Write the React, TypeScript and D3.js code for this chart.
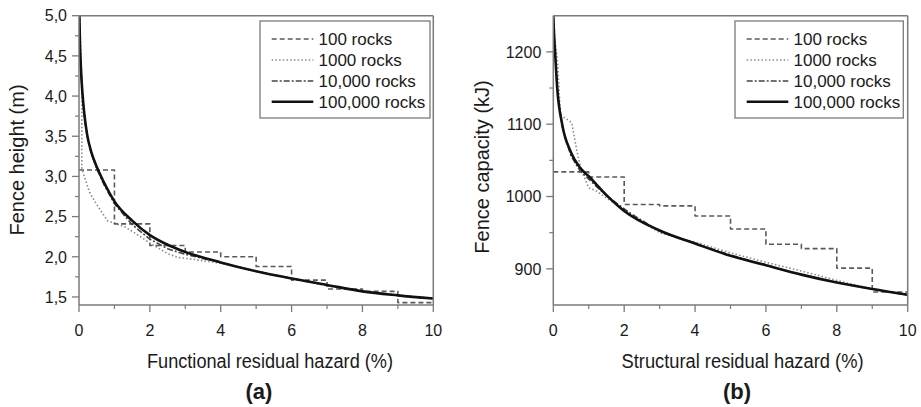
import React from "react";
import * as d3 from "d3";

// ---------- Data ----------
const xTicks = [0, 2, 4, 6, 8, 10];
const xMinorTicks = [1, 3, 5, 7, 9];

const yTicksA = [1.5, 2.0, 2.5, 3.0, 3.5, 4.0, 4.5, 5.0];
const yMinorA = [1.75, 2.25, 2.75, 3.25, 3.75, 4.25, 4.75];
const yTicksB = [900, 1000, 1100, 1200];
const yMinorB = [950, 1050, 1150];

const seriesNames = ["100 rocks", "1000 rocks", "10,000 rocks", "100,000 rocks"];

// Panel (a): fence height (m) vs functional residual hazard (%)
const hazA100 = [0, 1, 2, 3, 4, 5, 6, 7, 8, 9, 10];
const heightA100 = [3.08, 2.41, 2.14, 2.06, 2.0, 1.88, 1.71, 1.6, 1.57, 1.43, 1.43];

const hazA1000 = [0.02, 0.05, 0.08, 0.08, 0.15, 0.3, 0.5, 0.8, 1.0, 1.3, 1.6, 2.0, 2.5, 2.8, 3.2, 4, 5, 6, 7, 8, 9, 10];
const heightA1000 = [5.0, 4.5, 4.0, 3.1, 3.0, 2.8, 2.65, 2.45, 2.42, 2.37, 2.29, 2.17, 2.04, 1.99, 1.97, 1.92, 1.82, 1.73, 1.64, 1.57, 1.52, 1.48];

const hazA10k = [0.01, 0.03, 0.06, 0.1, 0.15, 0.23, 0.35, 0.5, 0.7, 1, 1.5, 2, 2.5, 3, 4, 5, 6, 7, 8, 9, 10];
const heightA10k = [5.0, 4.6, 4.28, 4.0, 3.76, 3.5, 3.28, 3.1, 2.9, 2.66, 2.4, 2.22, 2.1, 2.03, 1.93, 1.82, 1.73, 1.65, 1.57, 1.52, 1.48];

const hazA100k = [0.01, 0.03, 0.06, 0.1, 0.15, 0.23, 0.35, 0.5, 0.7, 1, 1.5, 2, 2.5, 3, 4, 5, 6, 7, 8, 9, 10];
const heightA100k = [5.0, 4.62, 4.3, 4.02, 3.78, 3.52, 3.3, 3.12, 2.93, 2.69, 2.45, 2.27, 2.15, 2.06, 1.93, 1.82, 1.73, 1.65, 1.57, 1.52, 1.48];

// Panel (b): fence capacity (kJ) vs structural residual hazard (%)
const hazB100 = [0, 1, 2, 3, 4, 5, 6, 7, 8, 9, 10];
const capB100 = [1034, 1027, 989, 987, 973, 955, 934, 928, 901, 868, 868];

const hazB1000 = [0, 0.05, 0.12, 0.16, 0.2, 0.35, 0.52, 0.6, 0.7, 0.8, 1.0, 1.2, 1.5, 2, 2.2, 3, 4, 5, 6, 7, 8, 9, 10];
const capB1000 = [1250, 1215, 1185, 1150, 1112, 1108, 1102, 1080, 1055, 1035, 1012, 1008, 998, 982, 974, 950, 937, 922, 909, 897, 884, 872, 864];

const hazB10k = [0, 0.05, 0.12, 0.25, 0.5, 0.75, 1, 1.5, 2, 2.2, 3, 4, 5, 6, 7, 8, 9, 10];
const capB10k = [1250, 1198, 1148, 1097, 1056, 1036, 1024, 1001, 983, 976, 952, 935, 919, 905, 892, 881, 872, 864];

const hazB100k = [0, 0.02, 0.05, 0.11, 0.25, 0.5, 0.75, 1, 1.5, 2, 3, 4, 5, 6, 7, 8, 9, 10];
const capB100k = [1250, 1225, 1200, 1150, 1100, 1061, 1040, 1028, 1002, 980, 953, 935, 918, 905, 892, 881, 872, 864];

// ---------- Styles ----------
const FONT = "'Liberation Sans', Arial, Helvetica, sans-serif";
const AXIS_COLOR = "#7a7a7a";
const TEXT_COLOR = "#1a1a1a";
const seriesStyles = [
  { stroke: "#5a5a5a", width: 1.6, dash: "5,3", curve: "step" },
  { stroke: "#8a8a8a", width: 1.6, dash: "1.5,2.2", curve: "linear" },
  { stroke: "#444", width: 1.6, dash: "6,2,2,2", curve: "linear" },
  { stroke: "#111", width: 2.6, dash: "", curve: "monotone" },
];

type Panel = {
  id: string;
  x0: number;
  x1: number;
  yTop: number;
  yBot: number;
  yDomain: [number, number];
  yTicks: number[];
  yMinor: number[];
  fmt: (v: number) => string;
  series: { x: number[]; y: number[] }[];
  xTitle: string;
  xTitleX: number;
  xTitleLen: number;
  yTitle: string;
  yTitleX: number;
  yTitleY: number;
  label: string;
  labelX: number;
  legendX0: number;
  legendX1: number;
};

const panels: Panel[] = [
  {
    id: "a",
    x0: 79,
    x1: 433.3,
    yTop: 15.7,
    yBot: 305,
    yDomain: [1.4, 5.0],
    yTicks: yTicksA,
    yMinor: yMinorA,
    fmt: (v) => v.toFixed(1).replace(".", ","),
    series: [
      { x: hazA100, y: heightA100 },
      { x: hazA1000, y: heightA1000 },
      { x: hazA10k, y: heightA10k },
      { x: hazA100k, y: heightA100k },
    ],
    xTitle: "Functional residual hazard (%)",
    xTitleX: 270,
    xTitleLen: 246,
    yTitle: "Fence height (m)",
    yTitleX: 17,
    yTitleY: 160,
    label: "(a)",
    labelX: 259,
    legendX0: 260,
    legendX1: 430,
  },
  {
    id: "b",
    x0: 553.3,
    x1: 907.7,
    yTop: 15.7,
    yBot: 305,
    yDomain: [850, 1250],
    yTicks: yTicksB,
    yMinor: yMinorB,
    fmt: (v) => String(v),
    series: [
      { x: hazB100, y: capB100 },
      { x: hazB1000, y: capB1000 },
      { x: hazB10k, y: capB10k },
      { x: hazB100k, y: capB100k },
    ],
    xTitle: "Structural residual hazard (%)",
    xTitleX: 742.5,
    xTitleLen: 242,
    yTitle: "Fence capacity (kJ)",
    yTitleX: 482,
    yTitleY: 167,
    label: "(b)",
    labelX: 737,
    legendX0: 735,
    legendX1: 903.3,
  },
];

function PanelView({ p }: { p: Panel }) {
  const x = d3.scaleLinear().domain([0, 10]).range([p.x0, p.x1]);
  const y = d3.scaleLinear().domain(p.yDomain).range([p.yBot, p.yTop]);
  const clipId = `clip-${p.id}`;

  const lines = p.series.map((s, i) => {
    const st = seriesStyles[i];
    const curve =
      st.curve === "step" ? d3.curveStepAfter : st.curve === "monotone" ? d3.curveMonotoneX : d3.curveLinear;
    const gen = d3
      .line<number>()
      .x((_, k) => x(s.x[k]))
      .y((v) => y(v))
      .curve(curve);
    return (
      <path
        key={i}
        d={gen(s.y) || ""}
        fill="none"
        stroke={st.stroke}
        strokeWidth={st.width}
        strokeDasharray={st.dash || undefined}
        strokeLinejoin="round"
      />
    );
  });

  const legendRows = [39, 60, 81, 101.7];
  const lx0 = p.legendX0 + 11.7;
  const lx1 = lx0 + 41.6;

  return (
    <g>
      <defs>
        <clipPath id={clipId}>
          <rect x={p.x0} y={p.yTop - 2} width={p.x1 - p.x0 + 2} height={p.yBot - p.yTop + 2} />
        </clipPath>
      </defs>
      <g clipPath={`url(#${clipId})`}>{[1, 0, 2, 3].map((i) => lines[i])}</g>

      {/* frame */}
      <line x1={p.x0} x2={p.x1} y1={p.yTop} y2={p.yTop} stroke={AXIS_COLOR} strokeWidth={1.5} />
      <line x1={p.x1} x2={p.x1} y1={p.yTop} y2={p.yBot} stroke={AXIS_COLOR} strokeWidth={1.5} />
      <line x1={p.x0} x2={p.x1} y1={p.yBot} y2={p.yBot} stroke={AXIS_COLOR} strokeWidth={1.5} />
      <line x1={p.x0} x2={p.x0} y1={p.yTop} y2={p.yBot} stroke={AXIS_COLOR} strokeWidth={1.5} />

      {/* x ticks */}
      {xTicks.map((t) => (
        <g key={`xt${t}`}>
          <line x1={x(t)} x2={x(t)} y1={p.yBot} y2={p.yBot + 7} stroke={AXIS_COLOR} strokeWidth={1.3} />
          <text x={x(t)} y={335.5} textAnchor="middle" fontSize={16} fontFamily={FONT} fill={TEXT_COLOR}>
            {t}
          </text>
        </g>
      ))}
      {xMinorTicks.map((t) => (
        <line key={`xm${t}`} x1={x(t)} x2={x(t)} y1={p.yBot} y2={p.yBot + 4} stroke={AXIS_COLOR} strokeWidth={1.2} />
      ))}

      {/* y ticks */}
      {p.yTicks.map((t) => (
        <g key={`yt${t}`}>
          <line x1={p.x0 - 7} x2={p.x0} y1={y(t)} y2={y(t)} stroke={AXIS_COLOR} strokeWidth={1.3} />
          <text
            x={p.x0 - 12}
            y={y(t)}
            dy="0.36em"
            textAnchor="end"
            fontSize={16}
            fontFamily={FONT}
            fill={TEXT_COLOR}
          >
            {p.fmt(t)}
          </text>
        </g>
      ))}
      {p.yMinor.map((t) => (
        <line key={`ym${t}`} x1={p.x0 - 4} x2={p.x0} y1={y(t)} y2={y(t)} stroke={AXIS_COLOR} strokeWidth={1.2} />
      ))}

      {/* titles */}
      <text
        x={p.xTitleX}
        y={368}
        textAnchor="middle"
        fontSize={20}
        fontFamily={FONT}
        fill={TEXT_COLOR}
        textLength={p.xTitleLen}
        lengthAdjust="spacingAndGlyphs"
      >
        {p.xTitle}
      </text>
      <text
        transform={`translate(${p.yTitleX},${p.yTitleY}) rotate(-90)`}
        textAnchor="middle"
        dy="0.35em"
        fontSize={20}
        fontFamily={FONT}
        fill={TEXT_COLOR}
      >
        {p.yTitle}
      </text>
      <text
        x={p.labelX}
        y={399}
        textAnchor="middle"
        fontSize={22}
        fontWeight="bold"
        fontFamily={FONT}
        fill={TEXT_COLOR}
      >
        {p.label}
      </text>

      {/* legend */}
      <rect
        x={p.legendX0}
        y={21}
        width={p.legendX1 - p.legendX0}
        height={97}
        fill="#fff"
        stroke={AXIS_COLOR}
        strokeWidth={1.3}
      />
      {seriesNames.map((name, i) => {
        const st = seriesStyles[i];
        return (
          <g key={name}>
            <line
              x1={lx0}
              x2={lx1}
              y1={legendRows[i]}
              y2={legendRows[i]}
              stroke={st.stroke}
              strokeWidth={st.width}
              strokeDasharray={st.dash || undefined}
            />
            <text
              x={lx1 + 5.2}
              y={legendRows[i]}
              dy="0.36em"
              fontSize={17}
              fontFamily={FONT}
              fill={TEXT_COLOR}
            >
              {name}
            </text>
          </g>
        );
      })}
    </g>
  );
}

export default function App() {
  return (
    <svg
      width={921}
      height={407}
      viewBox="0 0 921 407"
      style={{ position: "absolute", left: 0, top: 0, background: "#fff" }}
    >
      <rect x={0} y={0} width={921} height={407} fill="#fff" />
      {panels.map((p) => (
        <PanelView key={p.id} p={p} />
      ))}
    </svg>
  );
}
